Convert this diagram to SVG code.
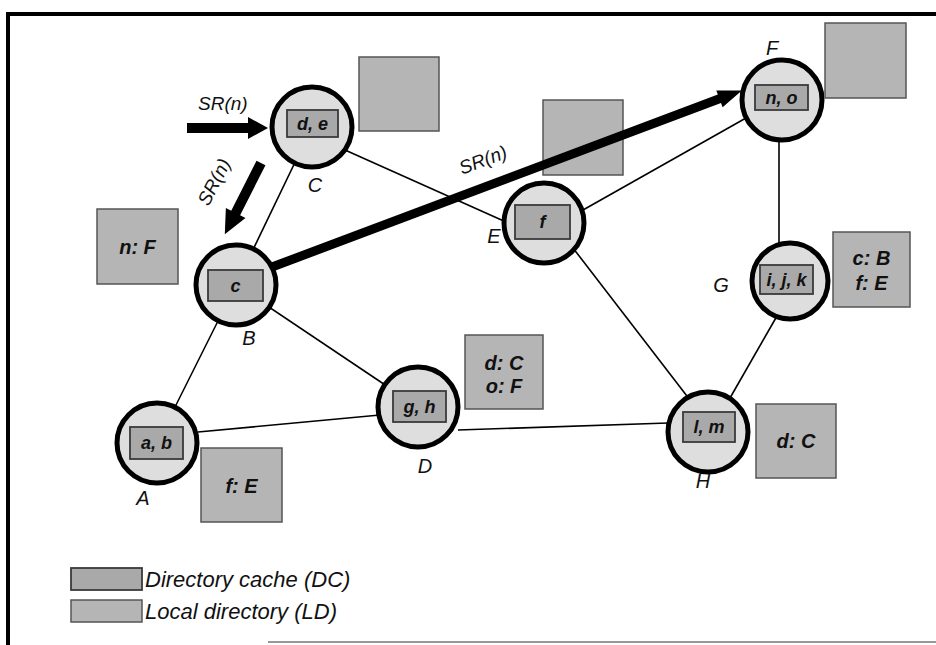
<svg xmlns="http://www.w3.org/2000/svg" width="936" height="645" viewBox="0 0 936 645">
<style>
.edge{stroke:#000;stroke-width:1.6;fill:none}
.ring{fill:#dedede;stroke:#000;stroke-width:5}
.dc{fill:#a9a9a9;stroke:#3a3a3a;stroke-width:1.8}
.ld{fill:#b5b5b5;stroke:#555;stroke-width:1.5}
.t{font-family:"Liberation Sans",Arial,sans-serif;font-style:italic;fill:#111}
.in{font-size:18px;font-weight:bold;text-anchor:middle;dominant-baseline:central}
.lbl{font-size:20px;text-anchor:middle}
.bx{font-size:20px;font-weight:bold;text-anchor:middle;dominant-baseline:central}
.sr{font-size:19px}
.arrow{fill:#000}
</style>
<rect x="0" y="0" width="936" height="645" fill="#fff"/>
<g id="frame">
<line x1="6" y1="14" x2="936" y2="14" stroke="#000" stroke-width="4"/>
<line x1="8" y1="12" x2="8" y2="645" stroke="#000" stroke-width="4"/>
<line x1="268" y1="642" x2="936" y2="642" stroke="#777" stroke-width="1.5"/>
</g>
<g id="dir-E">
<rect class="ld" x="543" y="100" width="80" height="75"/>
</g>
<g id="connectors">
<line class="edge" x1="312" y1="127" x2="236" y2="285"/>
<line class="edge" x1="345" y1="150" x2="506" y2="222"/>
<line class="edge" x1="236" y1="285" x2="157" y2="443"/>
<line class="edge" x1="236" y1="285" x2="418" y2="407"/>
<line class="edge" x1="198" y1="432" x2="380" y2="415"/>
<line class="edge" x1="458" y1="430" x2="668" y2="423"/>
<line class="edge" x1="583" y1="210" x2="746" y2="118"/>
<line class="edge" x1="573" y1="248" x2="690" y2="400"/>
<line class="edge" x1="779" y1="138" x2="779" y2="245"/>
<line class="edge" x1="777" y1="316" x2="730" y2="398"/>
<polygon class="arrow" points="187,123 248,123 248,117 268,128 248,139 248,133 187,133"/>
<g transform="translate(261,163) rotate(116.9)">
<polygon class="arrow" points="0,-5 56,-5 56,-11 80,0 56,11 56,5 0,5"/>
</g>
<g transform="translate(272,267) rotate(-20.6)">
<polygon class="arrow" points="0,-4.5 478,-4.5 478,-9 502,0 478,9 478,4.5 0,4.5"/>
</g>
<text class="t sr" x="198" y="110">SR(n)</text>
<text class="t sr" x="214" y="182" text-anchor="middle" dominant-baseline="central" transform="rotate(-63 214 182)">SR(n)</text>
<text class="t sr" x="483" y="160" text-anchor="middle" dominant-baseline="central" transform="rotate(-20.6 483 160)">SR(n)</text>
</g>
<g id="node-C">
<circle class="ring" cx="312" cy="127" r="40"/>
<rect class="dc" x="287" y="110" width="51" height="27"/>
<text class="t in" x="312.5" y="123.5">d, e</text>
<text class="t lbl" x="315" y="192">C</text>
<rect class="ld" x="359" y="57" width="80" height="74"/>
</g>
<g id="node-B">
<circle class="ring" cx="236" cy="285" r="40"/>
<rect class="dc" x="208" y="270" width="55" height="31"/>
<text class="t in" x="235.5" y="285.5">c</text>
<text class="t lbl" x="249" y="345">B</text>
<rect class="ld" x="97" y="209" width="81" height="75"/>
<text class="t bx" x="137.5" y="246.5">n: F</text>
</g>
<g id="node-A">
<circle class="ring" cx="157" cy="443" r="40"/>
<rect class="dc" x="130" y="427" width="53" height="32"/>
<text class="t in" x="156.5" y="443">a, b</text>
<text class="t lbl" x="143" y="505">A</text>
<rect class="ld" x="201" y="448" width="81" height="74"/>
<text class="t bx" x="241.5" y="486">f: E</text>
</g>
<g id="node-D">
<circle class="ring" cx="418" cy="407" r="40"/>
<rect class="dc" x="393" y="391" width="53" height="31"/>
<text class="t in" x="419.5" y="406.5">g, h</text>
<text class="t lbl" x="425" y="473">D</text>
<rect class="ld" x="465" y="335" width="78" height="74"/>
<text class="t bx" x="504" y="363">d: C</text>
<text class="t bx" x="504" y="386">o: F</text>
</g>
<g id="node-E">
<circle class="ring" cx="544" cy="223" r="40"/>
<rect class="dc" x="515" y="205" width="55" height="34"/>
<text class="t in" x="542.5" y="222">f</text>
<text class="t lbl" x="494" y="243">E</text>
</g>
<g id="node-F">
<circle class="ring" cx="782" cy="100" r="40"/>
<rect class="dc" x="755" y="85" width="53" height="25"/>
<text class="t in" x="781.5" y="97.5">n, o</text>
<text class="t lbl" x="772" y="55">F</text>
<rect class="ld" x="825" y="23" width="81" height="75"/>
</g>
<g id="node-G">
<circle class="ring" cx="790" cy="281" r="38"/>
<rect class="dc" x="760" y="265" width="53" height="29"/>
<text class="t in" x="786.5" y="279.5">i, j, k</text>
<text class="t lbl" x="721" y="292">G</text>
<rect class="ld" x="833" y="232" width="77" height="75"/>
<text class="t bx" x="871.5" y="258">c: B</text>
<text class="t bx" x="871.5" y="283">f: E</text>
</g>
<g id="node-H">
<circle class="ring" cx="708" cy="432" r="40"/>
<rect class="dc" x="683" y="412" width="52" height="30"/>
<text class="t in" x="709" y="427">l, m</text>
<text class="t lbl" x="703" y="488">H</text>
<rect class="ld" x="756" y="404" width="80" height="74"/>
<text class="t bx" x="796" y="441">d: C</text>
</g>
<g id="legend">
<rect class="dc" x="71" y="568" width="71" height="22"/>
<text class="t" x="145" y="587" font-size="22">Directory cache (DC)</text>
<rect class="ld" x="71" y="600" width="71" height="22"/>
<text class="t" x="145" y="619" font-size="22">Local directory (LD)</text>
</g>
</svg>
